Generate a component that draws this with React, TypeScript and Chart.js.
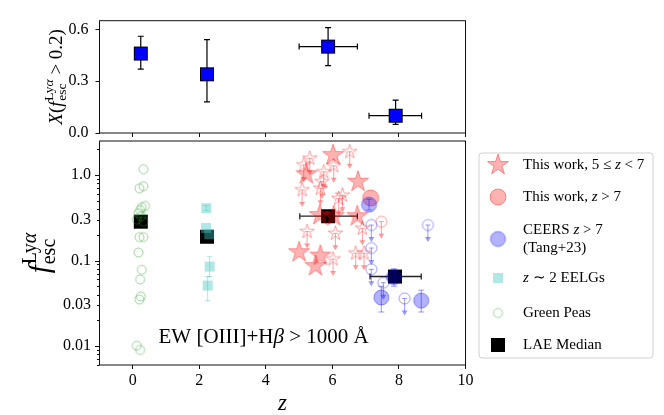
import { useEffect, useRef } from "react";
import { Chart, registerables } from "chart.js";

Chart.register(...registerables);

const SERIF = "'Liberation Serif', 'Times New Roman', serif";

// top panel: X(f_esc > 0.2) vs z
const fracZ = [0.24, 2.23, 5.87, 7.9];
const fracX = [0.46, 0.34, 0.5, 0.1];
const fracLo = [0.37, 0.18, 0.39, 0.05];
const fracHi = [0.56, 0.54, 0.61, 0.19];
const fracZLo = [null, null, 5.0, 7.1];
const fracZHi = [null, null, 6.75, 8.68];
const fracTicks = [0, 0.3, 0.6];

// bottom panel: f_esc vs z
const starZ = [6.02, 5.22, 6.77, 5.62, 6.04, 6.75, 5.0, 5.64, 5.49];
const starF = [1.71, 1.02, 0.835, 0.34, 0.33, 0.33, 0.125, 0.114, 0.086];
const starLimZ = [6.52, 5.32, 5.14, 6.04, 5.74, 5.69, 5.09, 5.64, 6.3, 6.19, 5.24, 6.09, 6.9, 6.7, 6.95, 6.02];
const starLimF = [1.87, 1.57, 1.31, 1.28, 1.09, 0.835, 0.67, 0.7, 0.58, 0.53, 0.218, 0.208, 0.238, 0.122, 0.122, 0.104];
const redZ = [7.15];
const redF = [0.54];
const redLimZ = [7.47];
const redLimF = [0.285];
const ceersZ = [7.1, 7.47, 8.67, 7.85];
const ceersF = [0.45, 0.037, 0.034, 0.064];
const ceersLo = [0.39, 0.025, 0.025, 0.05];
const ceersHi = [0.52, 0.05, 0.045, 0.08];
const ceersLimZ = [7.17, 7.17, 7.17, 7.53, 8.17, 8.87];
const ceersLimF = [0.26, 0.14, 0.079, 0.055, 0.036, 0.26];
const eelgZ = [2.21, 2.2, 2.3, 2.31, 2.25];
const eelgF = [0.41, 0.24, 0.203, 0.085, 0.051];
const eelgLo = [0.385, null, null, 0.065, 0.034];
const eelgHi = [0.44, null, null, 0.111, 0.065];
const gpZ = [0.32, 0.2, 0.32, 0.37, 0.27, 0.22, 0.17, 0.32, 0.12, 0.25, 0.2, 0.32, 0.17, 0.27, 0.22, 0.24, 0.2, 0.12, 0.22];
const gpF = [1.17, 0.7, 0.74, 0.435, 0.42, 0.39, 0.357, 0.285, 0.3, 0.33, 0.188, 0.188, 0.124, 0.078, 0.06, 0.038, 0.035, 0.0101, 0.009];
const medZ = [0.24, 2.23, 5.87, 7.88];
const medF = [0.285, 0.19, 0.33, 0.065];
const medZLo = [null, null, 5.02, 7.13];
const medZHi = [null, null, 6.75, 8.67];

const zTicks = [0, 2, 4, 6, 8, 10];
const fescTicks = [0.01, 0.03, 0.1, 0.3, 1.0];
const fescTickLabels = ["0.01", "0.03", "0.1", "0.3", "1.0"];

const RED_F = "rgba(255,0,0,0.3)";
const RED_E = "rgba(255,0,0,0.38)";
const BLUE_F = "rgba(0,0,255,0.3)";
const BLUE_E = "rgba(0,0,255,0.4)";
const CYAN_F = "rgba(64,200,190,0.42)";
const GREEN_E = "rgba(44,160,44,0.45)";

type Seg = { t: string; it?: boolean; px: number; dy?: number };
type Piece = Seg | { sup: Seg[]; sub: Seg[] };

const zip = (xs: number[], ys: number[]) => xs.map((x, i) => ({ x, y: ys[i] }));

function mk(w: number, h: number, paint: (c: CanvasRenderingContext2D) => void) {
  const cv = document.createElement("canvas");
  cv.width = w;
  cv.height = h;
  paint(cv.getContext("2d")!);
  return cv;
}

function makeMarkers() {
  const circle = (r: number, fill: string | null, stroke: string) =>
    mk(2 * r + 4, 2 * r + 4, (c) => {
      c.beginPath();
      c.arc(r + 2, r + 2, r, 0, 2 * Math.PI);
      if (fill) {
        c.fillStyle = fill;
        c.fill();
      }
      c.strokeStyle = stroke;
      c.lineWidth = 1;
      c.stroke();
    });
  const square = (s: number, fill: string, stroke?: string) =>
    mk(s + 2, s + 2, (c) => {
      c.fillStyle = fill;
      c.fillRect(1, 1, s, s);
      if (stroke) {
        c.strokeStyle = stroke;
        c.lineWidth = 1;
        c.strokeRect(1.5, 1.5, s - 1, s - 1);
      }
    });
  const star = (R: number, fill: string | null, stroke: string) =>
    mk(2 * R + 4, 2 * R + 4, (c) => {
      const cx = R + 2, cy = R + 2;
      c.beginPath();
      for (let k = 0; k < 10; k++) {
        const a = -Math.PI / 2 + (k * Math.PI) / 5;
        const rr = k % 2 === 0 ? R : R * 0.382;
        c.lineTo(cx + rr * Math.cos(a), cy + rr * Math.sin(a));
      }
      c.closePath();
      if (fill) {
        c.fillStyle = fill;
        c.fill();
      }
      c.strokeStyle = stroke;
      c.lineWidth = 1;
      c.stroke();
    });
  return {
    star: star(11, RED_F, RED_E),
    starOpen: star(7.5, null, RED_E),
    red: circle(8, RED_F, RED_E),
    redOpen: circle(5.5, null, RED_E),
    blue: circle(7.5, BLUE_F, BLUE_E),
    blueOpen: circle(5.5, null, BLUE_E),
    cyan: square(10, CYAN_F),
    green: circle(4.5, null, GREEN_E),
    black: square(14, "#000"),
    blueSq: square(14, "#0000ff", "#000"),
  };
}

const font = (s: Seg) => `${s.it ? "italic " : ""}${s.px}px ${SERIF}`;

function segsWidth(ctx: CanvasRenderingContext2D, segs: Seg[]) {
  return segs.reduce((w, s) => {
    ctx.font = font(s);
    return w + ctx.measureText(s.t).width;
  }, 0);
}

function piecesWidth(ctx: CanvasRenderingContext2D, pieces: Piece[]) {
  return pieces.reduce(
    (w, p) => w + ("sup" in p ? Math.max(segsWidth(ctx, p.sup), segsWidth(ctx, p.sub)) : segsWidth(ctx, [p])),
    0
  );
}

function drawSegs(ctx: CanvasRenderingContext2D, segs: Seg[], x: number, y: number) {
  for (const s of segs) {
    ctx.font = font(s);
    ctx.fillText(s.t, x, y + (s.dy || 0));
    x += ctx.measureText(s.t).width;
  }
  return x;
}

function drawPieces(ctx: CanvasRenderingContext2D, pieces: Piece[], x: number, y: number) {
  ctx.textAlign = "left";
  for (const p of pieces) {
    if ("sup" in p) {
      const a = drawSegs(ctx, p.sup, x, y);
      const b = drawSegs(ctx, p.sub, x, y);
      x = Math.max(a, b);
    } else {
      x = drawSegs(ctx, [p], x, y);
    }
  }
}

// error bars and upper-limit arrows, drawn just below each dataset's markers
const errorBars = {
  id: "errorBars",
  beforeDatasetDraw(chart: any, args: any) {
    const ds = chart.data.datasets[args.index];
    const ctx: CanvasRenderingContext2D = chart.ctx;
    const xs = chart.scales.x, ys = chart.scales.y;
    ctx.save();
    ctx.strokeStyle = ds.errColor || "#000";
    ctx.fillStyle = ds.errColor || "#000";
    ctx.lineWidth = ds.errWidth || 1;
    ds.data.forEach((p: { x: number; y: number }, i: number) => {
      const px = xs.getPixelForValue(p.x);
      const py = ys.getPixelForValue(p.y);
      const cap = ds.capHalf || 3;
      if (ds.yLo && ds.yLo[i] != null) {
        const a = ys.getPixelForValue(ds.yLo[i]);
        const b = ys.getPixelForValue(ds.yHi[i]);
        ctx.beginPath();
        ctx.moveTo(px, a); ctx.lineTo(px, b);
        ctx.moveTo(px - cap, a); ctx.lineTo(px + cap, a);
        ctx.moveTo(px - cap, b); ctx.lineTo(px + cap, b);
        ctx.stroke();
      }
      if (ds.xLo && ds.xLo[i] != null) {
        const a = xs.getPixelForValue(ds.xLo[i]);
        const b = xs.getPixelForValue(ds.xHi[i]);
        ctx.beginPath();
        ctx.moveTo(a, py); ctx.lineTo(b, py);
        ctx.moveTo(a, py - cap); ctx.lineTo(a, py + cap);
        ctx.moveTo(b, py - cap); ctx.lineTo(b, py + cap);
        ctx.stroke();
      }
      if (ds.upperLimit) {
        const L = 16;
        ctx.beginPath();
        ctx.moveTo(px - 2.5, py); ctx.lineTo(px + 2.5, py);
        ctx.moveTo(px, py); ctx.lineTo(px, py + L - 3);
        ctx.stroke();
        ctx.beginPath();
        ctx.moveTo(px - 3, py + L - 4);
        ctx.lineTo(px + 3, py + L - 4);
        ctx.lineTo(px, py + L + 1);
        ctx.closePath();
        ctx.fill();
      }
    });
    ctx.restore();
  },
};

const frame = {
  id: "frame",
  afterDraw(chart: any) {
    const { ctx, chartArea: a } = chart;
    ctx.save();
    ctx.strokeStyle = "#111";
    ctx.lineWidth = 1;
    ctx.strokeRect(a.left, a.top, a.right - a.left, a.bottom - a.top);
    ctx.restore();
  },
};

const n = (t: string, px = 15): Seg => ({ t, px });
const it = (t: string, px = 15): Seg => ({ t, px, it: true });

// keep the plot area exactly where the layout padding puts it
const noScalePad = (s: any) => {
  s.paddingTop = 0;
  s.paddingBottom = 0;
  s.paddingLeft = 0;
  s.paddingRight = 0;
};

export default function App() {
  const topRef = useRef<HTMLCanvasElement>(null);
  const botRef = useRef<HTMLCanvasElement>(null);

  useEffect(() => {
    if (!topRef.current || !botRef.current) return;
    const m = makeMarkers();
    const tickFont = { family: SERIF, size: 16 };
    const xAxis = (h: number, labels: boolean) => ({
      type: "linear" as const,
      min: -1,
      max: 10,
      afterBuildTicks: (s: any) => { s.ticks = zTicks.map((v) => ({ value: v })); },
      afterFit: (s: any) => { s.height = h; noScalePad(s); },
      grid: { drawOnChartArea: false, tickLength: 4, color: "#111", tickWidth: 1 },
      border: { display: false },
      ticks: { display: labels, font: tickFont, color: "#000", padding: 2, maxRotation: 0 },
    });

    const topLabel = {
      id: "topLabel",
      afterDraw(chart: any) {
        const ctx = chart.ctx;
        const a = chart.chartArea;
        const pieces: Piece[] = [
          it("X", 19), n("(", 19), it("f", 19), n(" ", 3),
          { sup: [n("Ly", 13.5), it("α", 13.5)].map((s) => ({ ...s, dy: -9 })), sub: [{ ...n("esc", 13.5), dy: 4 }] },
          n(" > 0.2)", 19),
        ];
        ctx.save();
        ctx.fillStyle = "#000";
        ctx.textBaseline = "alphabetic";
        ctx.translate(62, (a.top + a.bottom) / 2);
        ctx.rotate(-Math.PI / 2);
        drawPieces(ctx, pieces, -piecesWidth(ctx, pieces) / 2, 0);
        ctx.restore();
      },
    };

    const top = new Chart(topRef.current, {
      type: "scatter",
      data: {
        datasets: [
          {
            data: zip(fracZ, fracX),
            pointStyle: m.blueSq,
            pointRadius: 7,
            yLo: fracLo, yHi: fracHi, xLo: fracZLo, xHi: fracZHi,
            errColor: "#000", errWidth: 1.2, capHalf: 3,
          } as any,
        ],
      },
      options: {
        animation: false,
        responsive: false,
        events: [],
        layout: { autoPadding: false, padding: { left: 0, right: 198.5, top: 20.7, bottom: 0 } },
        plugins: { legend: { display: false }, tooltip: { enabled: false } },
        scales: {
          x: xAxis(7, false),
          y: {
            min: 0,
            max: 0.65,
            afterBuildTicks: (s: any) => { s.ticks = fracTicks.map((v) => ({ value: v })); },
            afterFit: (s: any) => { s.width = 99.5; noScalePad(s); },
            grid: { drawOnChartArea: false, tickLength: 4, color: "#111" },
            border: { display: false },
            ticks: { font: tickFont, color: "#000", padding: 7, callback: (v: any) => Number(v).toFixed(1) },
          },
        },
      },
      plugins: [errorBars, frame, topLabel],
    });

    const legendRows: { marker: HTMLCanvasElement; dy: number; lines: Seg[][] }[] = [
      { marker: m.star, dy: 12, lines: [[n("This work, 5 ≤ "), it("z"), n(" < 7")]] },
      { marker: m.red, dy: 44, lines: [[n("This work, "), it("z"), n(" > 7")]] },
      { marker: m.blue, dy: 86, lines: [[n("CEERS "), it("z"), n(" > 7")], [n("(Tang+23)")]] },
      { marker: m.cyan, dy: 125, lines: [[it("z"), n(" ∼ 2 EELGs")]] },
      { marker: m.green, dy: 160, lines: [[n("Green Peas")]] },
      { marker: m.black, dy: 192, lines: [[n("LAE Median")]] },
    ];

    const botDecor = {
      id: "botDecor",
      afterDraw(chart: any) {
        const ctx: CanvasRenderingContext2D = chart.ctx;
        const a = chart.chartArea;
        const ys = chart.scales.y;
        ctx.save();
        ctx.strokeStyle = "#111";
        ctx.fillStyle = "#000";
        ctx.lineWidth = 1;
        // log ticks on the left spine
        ctx.beginPath();
        for (const dec of [0.001, 0.01, 0.1, 1]) {
          for (let k = 1; k < 10; k++) {
            const v = dec * k;
            if (v < 0.006 || v > 2.5) continue;
            const y = Math.round(ys.getPixelForValue(v)) + 0.5;
            const len = k === 1 ? 4.5 : 2.5;
            ctx.moveTo(a.left - len, y);
            ctx.lineTo(a.left, y);
          }
        }
        ctx.stroke();
        // x title
        ctx.textAlign = "center";
        ctx.textBaseline = "alphabetic";
        ctx.font = `italic 23px ${SERIF}`;
        ctx.fillText("z", (a.left + a.right) / 2, a.bottom + 45);
        // annotation
        drawPieces(ctx, [n("EW [OIII]+H", 21), it("β", 21), n(" > 1000 Å", 21)], a.left + 59, a.bottom - 22);
        // y title
        const yl: Piece[] = [
          it("f", 29), n(" ", 4),
          { sup: [{ ...n("Ly", 20), dy: -13 }, { ...it("α", 20), dy: -13 }], sub: [{ ...n("esc", 20), dy: 6 }] },
        ];
        ctx.save();
        ctx.translate(49, (a.top + a.bottom) / 2);
        ctx.rotate(-Math.PI / 2);
        drawPieces(ctx, yl, -piecesWidth(ctx, yl) / 2, 0);
        ctx.restore();
        // legend
        const bx = a.right + 13.5, by = a.top + 12, bw = 174, bh = 205;
        ctx.beginPath();
        ctx.roundRect(bx, by, bw, bh, 3);
        ctx.fillStyle = "rgba(255,255,255,0.8)";
        ctx.fill();
        ctx.strokeStyle = "#d0d0d0";
        ctx.stroke();
        ctx.fillStyle = "#000";
        ctx.textBaseline = "middle";
        for (const row of legendRows) {
          const cy = by + row.dy;
          ctx.drawImage(row.marker, bx + 19 - row.marker.width / 2, cy - row.marker.height / 2);
          const nl = row.lines.length;
          row.lines.forEach((line, li) => {
            drawPieces(ctx, line, bx + 44, cy + (li - (nl - 1) / 2) * 18);
          });
        }
        ctx.restore();
      },
    };

    const bot = new Chart(botRef.current, {
      type: "scatter",
      data: {
        datasets: [
          { label: "LAE Median", data: zip(medZ, medF), pointStyle: m.black, pointRadius: 7, order: 10, xLo: medZLo, xHi: medZHi, errColor: "#222", errWidth: 1.3, capHalf: 3 } as any,
          { label: "Green Peas", data: zip(gpZ, gpF), pointStyle: m.green, pointRadius: 5, order: 9 },
          { label: "z ~ 2 EELGs", data: zip(eelgZ, eelgF), pointStyle: m.cyan, pointRadius: 5, order: 8, yLo: eelgLo, yHi: eelgHi, errColor: CYAN_F, errWidth: 1, capHalf: 2.5 },
          { label: "This work, 5 <= z < 7 (limits)", data: zip(starLimZ, starLimF), pointStyle: m.starOpen, pointRadius: 7, order: 7, upperLimit: true, errColor: RED_E },
          { label: "This work, 5 <= z < 7", data: zip(starZ, starF), pointStyle: m.star, pointRadius: 10, order: 6 },
          { label: "This work, z > 7 (limits)", data: zip(redLimZ, redLimF), pointStyle: m.redOpen, pointRadius: 6, order: 5, upperLimit: true, errColor: RED_E },
          { label: "CEERS (limits)", data: zip(ceersLimZ, ceersLimF), pointStyle: m.blueOpen, pointRadius: 6, order: 4, upperLimit: true, errColor: BLUE_E },
          { label: "This work, z > 7", data: zip(redZ, redF), pointStyle: m.red, pointRadius: 8, order: 3 },
          { label: "CEERS z > 7", data: zip(ceersZ, ceersF), pointStyle: m.blue, pointRadius: 8, order: 2, yLo: ceersLo, yHi: ceersHi, errColor: BLUE_E, errWidth: 1, capHalf: 3 },
        ] as any,
      },
      options: {
        animation: false,
        responsive: false,
        events: [],
        layout: { autoPadding: false, padding: { left: 0, right: 198.5, top: 5, bottom: 0 } },
        plugins: { legend: { display: false }, tooltip: { enabled: false } },
        scales: {
          x: xAxis(50, true),
          y: {
            type: "logarithmic",
            min: 0.006,
            max: 2.5,
            afterBuildTicks: (s: any) => { s.ticks = fescTicks.map((v) => ({ value: v })); },
            afterFit: (s: any) => { s.width = 99.5; noScalePad(s); },
            grid: { display: false, drawTicks: false },
            border: { display: false },
            ticks: {
              font: tickFont,
              color: "#000",
              padding: 8.5,
              callback: (v: any) => {
                const i = fescTicks.findIndex((t) => Math.abs(t - Number(v)) < 1e-9);
                return i >= 0 ? fescTickLabels[i] : "";
              },
            },
          },
        },
      },
      plugins: [errorBars, frame, botDecor],
    });

    return () => {
      top.destroy();
      bot.destroy();
    };
  }, []);

  return (
    <div style={{ position: "absolute", left: 0, top: 0, width: 664, height: 415, background: "#fff" }}>
      <canvas ref={topRef} width={664} height={140} style={{ position: "absolute", left: 0, top: 0 }} />
      <canvas ref={botRef} width={664} height={279} style={{ position: "absolute", left: 0, top: 136 }} />
    </div>
  );
}
